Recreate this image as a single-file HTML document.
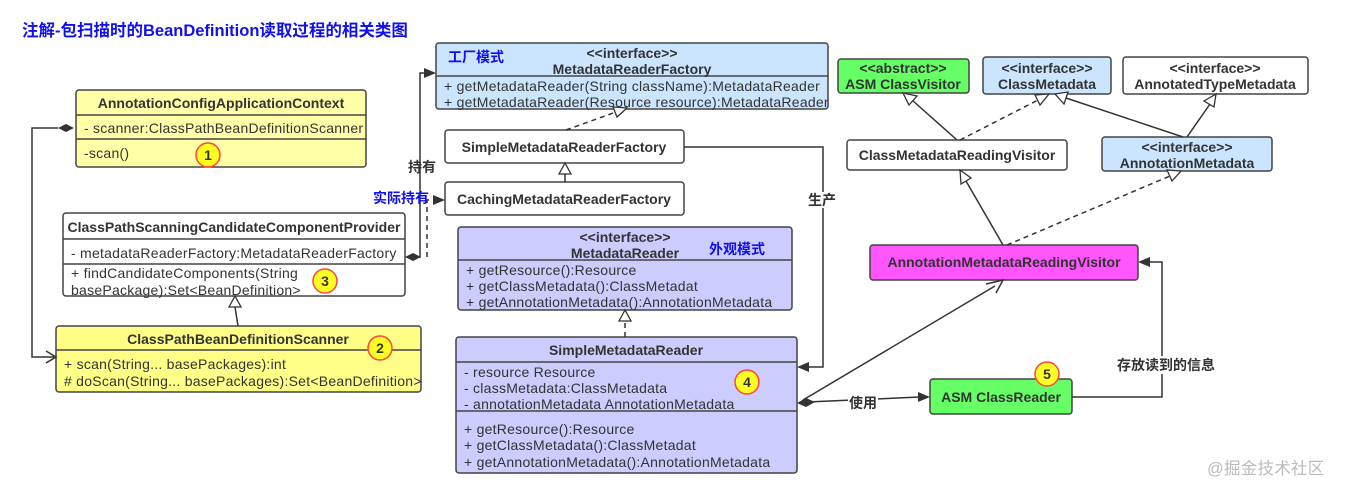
<!DOCTYPE html>
<html><head><meta charset="utf-8"><style>
html,body{margin:0;padding:0;background:#fff;}
svg{display:block;}
text{font-family:"Liberation Sans","Noto Sans CJK SC",sans-serif;font-size:14px;letter-spacing:0.25px;fill:#333;}
.b{font-weight:bold;letter-spacing:0;}
.c{text-anchor:middle;}
.box{stroke:#444;stroke-width:1.5;}
.ln{stroke:#333;stroke-width:1.5;fill:none;}
.dl{stroke:#333;stroke-width:1.5;fill:none;stroke-dasharray:5,4;}
.tri{fill:#fff;stroke:#333;stroke-width:1.3;}
.fa{fill:#333;}
.num{fill:#ffff22;stroke:#f44;stroke-width:1.5;}
</style></head><body>
<svg width="1348" height="494" viewBox="0 0 1348 494" xmlns="http://www.w3.org/2000/svg">
<text x="22" y="36" class="b" style="fill:#1010ee;font-size:16.5px">注解-包扫描时的BeanDefinition读取过程的相关类图</text>

<rect x="76" y="90" width="290" height="77" rx="3" fill="#ffffa8" class="box"/>
<line x1="76" y1="115" x2="366" y2="115" class="box"/>
<line x1="76" y1="139" x2="366" y2="139" class="box"/>
<text x="221" y="108" class="b c">AnnotationConfigApplicationContext</text>
<text x="84" y="133">- scanner:ClassPathBeanDefinitionScanner</text>
<text x="84" y="158">-scan()</text>

<rect x="63" y="213" width="342" height="83" rx="3" fill="#fff" class="box"/>
<line x1="63" y1="239" x2="405" y2="239" class="box"/>
<line x1="63" y1="264" x2="405" y2="264" class="box"/>
<text x="234" y="232" class="b c">ClassPathScanningCandidateComponentProvider</text>
<text x="71" y="258">- metadataReaderFactory:MetadataReaderFactory</text>
<text x="71" y="278">+ findCandidateComponents(String</text>
<text x="71" y="295">basePackage):Set&lt;BeanDefinition&gt;</text>

<rect x="56" y="326" width="365" height="66" rx="3" fill="#ffff88" class="box"/>
<line x1="56" y1="350" x2="421" y2="350" class="box"/>
<text x="238" y="344" class="b c">ClassPathBeanDefinitionScanner</text>
<text x="64" y="369">+ scan(String... basePackages):int</text>
<text x="64" y="386"># doScan(String... basePackages):Set&lt;BeanDefinition&gt;</text>

<rect x="436" y="43" width="392" height="66" rx="3" fill="#cce5ff" class="box"/>
<line x1="436" y1="76" x2="828" y2="76" class="box"/>
<text x="448" y="62" class="b" style="fill:#1010ee">工厂模式</text>
<text x="632" y="58" class="b c">&lt;&lt;interface&gt;&gt;</text>
<text x="632" y="74" class="b c">MetadataReaderFactory</text>
<text x="444" y="91">+ getMetadataReader(String className):MetadataReader</text>
<text x="444" y="107">+ getMetadataReader(Resource resource):MetadataReader</text>

<rect x="445" y="130" width="239" height="33" rx="3" fill="#fff" class="box"/>
<text x="564" y="152" class="b c">SimpleMetadataReaderFactory</text>
<rect x="445" y="182" width="239" height="33" rx="3" fill="#fff" class="box"/>
<text x="564" y="204" class="b c">CachingMetadataReaderFactory</text>

<rect x="458" y="227" width="334" height="83" rx="3" fill="#ccccff" class="box"/>
<line x1="458" y1="260" x2="792" y2="260" class="box"/>
<text x="625" y="242" class="b c">&lt;&lt;interface&gt;&gt;</text>
<text x="625" y="258" class="b c">MetadataReader</text>
<text x="709" y="254" class="b" style="fill:#1010ee">外观模式</text>
<text x="466" y="275">+ getResource():Resource</text>
<text x="466" y="291">+ getClassMetadata():ClassMetadat</text>
<text x="466" y="307">+ getAnnotationMetadata():AnnotationMetadata</text>

<rect x="456" y="337" width="341" height="136" rx="3" fill="#ccccff" class="box"/>
<line x1="456" y1="362" x2="797" y2="362" class="box"/>
<line x1="456" y1="411" x2="797" y2="411" class="box"/>
<text x="626" y="355" class="b c">SimpleMetadataReader</text>
<text x="464" y="377">- resource Resource</text>
<text x="464" y="393">- classMetadata:ClassMetadata</text>
<text x="464" y="409">- annotationMetadata AnnotationMetadata</text>
<text x="464" y="434">+ getResource():Resource</text>
<text x="464" y="450">+ getClassMetadata():ClassMetadat</text>
<text x="464" y="467">+ getAnnotationMetadata():AnnotationMetadata</text>

<rect x="838" y="59" width="131" height="34" rx="3" fill="#66ff66" class="box"/>
<text x="903" y="73" class="b c">&lt;&lt;abstract&gt;&gt;</text>
<text x="903" y="89" class="b c">ASM ClassVisitor</text>
<rect x="983" y="57" width="128" height="37" rx="3" fill="#cce5ff" class="box"/>
<text x="1047" y="73" class="b c">&lt;&lt;interface&gt;&gt;</text>
<text x="1047" y="89" class="b c">ClassMetadata</text>
<rect x="1123" y="57" width="185" height="37" rx="3" fill="#fff" class="box"/>
<text x="1215" y="73" class="b c">&lt;&lt;interface&gt;&gt;</text>
<text x="1215" y="89" class="b c">AnnotatedTypeMetadata</text>
<rect x="847" y="140" width="220" height="30" rx="3" fill="#fff" class="box"/>
<text x="957" y="160" class="b c">ClassMetadataReadingVisitor</text>
<rect x="1102" y="137" width="170" height="34" rx="3" fill="#cce5ff" class="box"/>
<text x="1187" y="152" class="b c">&lt;&lt;interface&gt;&gt;</text>
<text x="1187" y="168" class="b c">AnnotationMetadata</text>
<rect x="870" y="245" width="268" height="35" rx="3" fill="#ff55ff" class="box"/>
<text x="1004" y="267" class="b c">AnnotationMetadataReadingVisitor</text>
<rect x="930" y="379" width="142" height="35" rx="3" fill="#66ff66" class="box"/>
<text x="1001" y="402" class="b c">ASM ClassReader</text>

<polyline points="58,128 32,128 32,357 54,357" class="ln"/>
<polygon points="58,128 66,124 74,128 66,132" class="fa"/>
<polyline points="46,351 56,357 46,363" class="ln"/>
<line x1="238" y1="326" x2="235" y2="307" class="ln"/>
<polygon points="235,296 229,307 241,307" class="tri"/>

<polyline points="413,257 420,257 420,73 434,73" class="ln"/>
<polygon points="405,257 413,253 421,257 413,261" class="fa"/>
<polygon points="436,73 424,68 424,78" class="fa"/>
<text x="408" y="172" class="b">持有</text>
<polyline points="427,257 427,200 435,200" class="dl"/>
<polygon points="445,200 433,195 433,205" class="fa"/>
<text x="373" y="203" class="b" style="fill:#1010ee">实际持有</text>

<line x1="566" y1="130" x2="616" y2="112" class="dl"/>
<polygon points="627,108 613,107 617,117" class="tri"/>
<line x1="565" y1="182" x2="565" y2="174" class="ln"/>
<polygon points="565,163 559,174 571,174" class="tri"/>
<polyline points="684,147 823,147 823,367 808,367" class="ln"/>
<polygon points="797,367 809,362 809,372" class="fa"/>
<rect x="808" y="192" width="30" height="16" fill="#fff"/>
<text x="808" y="205" class="b">生产</text>
<line x1="625" y1="337" x2="625" y2="321" class="dl"/>
<polygon points="625,310 619,321 631,321" class="tri"/>

<line x1="807" y1="402" x2="920" y2="397" class="ln"/>
<polygon points="797,403 806,398 815,402 806,407" class="fa"/>
<polygon points="930,397 918,392 918,402" class="fa"/>
<rect x="848" y="394" width="30" height="16" fill="#fff"/>
<text x="849" y="408" class="b">使用</text>
<line x1="803" y1="400" x2="995" y2="286" class="ln"/>
<polyline points="986,284 1003,280 996,293" class="ln"/>

<polyline points="1072,397 1162,397 1162,262 1150,262" class="ln"/>
<polygon points="1138,262 1150,257 1150,267" class="fa"/>
<rect x="1116" y="356" width="94" height="18" fill="#fff"/>
<text x="1117" y="370" class="b">存放读到的信息</text>

<line x1="957" y1="140" x2="912" y2="100" class="ln"/>
<polygon points="903,93 917,96 909,105" class="tri"/>
<line x1="960" y1="140" x2="1038" y2="100" class="dl"/>
<polygon points="1049,94 1035,95 1040,105" class="tri"/>
<line x1="1183" y1="137" x2="1066" y2="98" class="ln"/>
<polygon points="1055,94 1068,92 1064,104" class="tri"/>
<line x1="1187" y1="137" x2="1210" y2="104" class="ln"/>
<polygon points="1216,94 1214,107 1204,101" class="tri"/>
<line x1="1003" y1="245" x2="966" y2="181" class="ln"/>
<polygon points="960,170 971,178 961,184" class="tri"/>
<line x1="1007" y1="245" x2="1170" y2="176" class="dl"/>
<polygon points="1181,171 1167,170 1172,181" class="tri"/>

<circle cx="208" cy="155" r="12" class="num"/><text x="208" y="160" class="b c">1</text>
<circle cx="380" cy="348" r="12" class="num"/><text x="380" y="353" class="b c">2</text>
<circle cx="325" cy="281" r="12" class="num"/><text x="325" y="286" class="b c">3</text>
<circle cx="747" cy="382" r="12" class="num"/><text x="747" y="387" class="b c">4</text>
<circle cx="1047" cy="374" r="12" class="num"/><text x="1047" y="379" class="b c">5</text>

<text x="1207" y="474" style="fill:#bbb;font-size:16.5px">@掘金技术社区</text>
</svg>
</body></html>
